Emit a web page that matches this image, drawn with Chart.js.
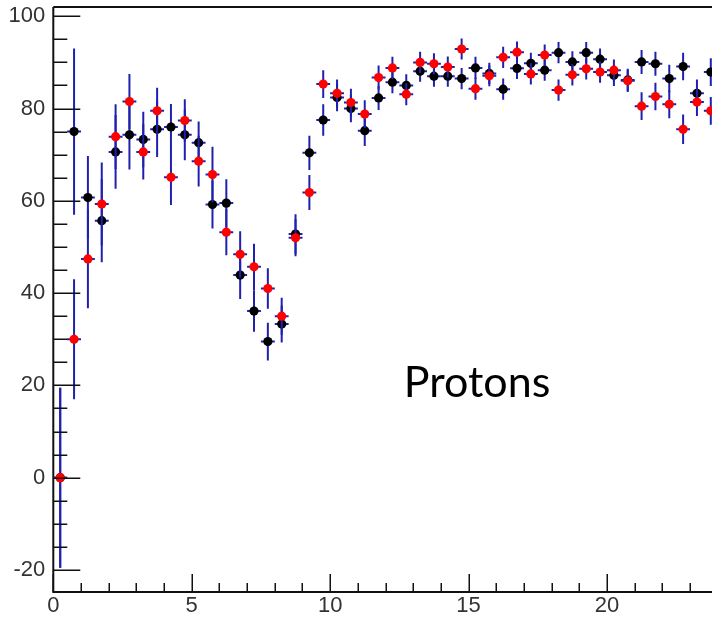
<!DOCTYPE html>
<html>
<head>
<meta charset="utf-8">
<script src="https://cdn.jsdelivr.net/npm/chart.js@4/dist/chart.umd.min.js"></script>
<style>
  html, body { margin: 0; padding: 0; background: #fff; overflow: hidden; width: 712px; height: 620px; }
  #wrap { width: 750px; height: 620px; }
  canvas { display: block; }
</style>
</head>
<body>
<div id="wrap"><canvas id="c" width="750" height="620"></canvas></div>
<script>
// ---- data ----
const binCenters = [0.25, 0.75, 1.25, 1.75, 2.25, 2.75, 3.25, 3.75, 4.25, 4.75, 5.25, 5.75,
  6.25, 6.75, 7.25, 7.75, 8.25, 8.75, 9.25, 9.75, 10.25, 10.75, 11.25, 11.75,
  12.25, 12.75, 13.25, 13.75, 14.25, 14.75, 15.25, 15.75, 16.25, 16.75, 17.25, 17.75,
  18.25, 18.75, 19.25, 19.75, 20.25, 20.75, 21.25, 21.75, 22.25, 22.75, 23.25, 23.75];
const binHalfWidth = 0.25;

const blackValues = [0, 75.0, 60.7, 55.7, 70.6, 74.3, 73.3, 75.5, 76.0, 74.3, 72.6, 59.2,
  59.5, 43.9, 36.1, 29.5, 33.3, 52.8, 70.4, 77.5, 82.4, 80.0, 75.2, 82.3,
  85.7, 85.0, 88.1, 87.0, 87.0, 86.5, 88.8, 87.6, 84.2, 88.7, 89.8, 88.3,
  92.1, 90.1, 92.1, 90.7, 87.2, 86.2, 90.1, 89.7, 86.5, 89.1, 83.3, 87.9];
const blackErrors = [19.5, 18, 9, 9, 8, 7.5, 6, 6, 5, 5.5, 4.6, 5.2,
  5.2, 5.2, 4.5, 4.1, 4, 4.3, 3.7, 3.4, 3, 3, 3.3, 2.6,
  2.4, 2.4, 2.3, 2.3, 2.3, 2.3, 2.4, 2.3, 2.3, 2.3, 2.3, 2.3,
  2.3, 2.3, 2.3, 2.3, 2.3, 2.4, 2.6, 2.6, 3, 3, 3, 3];

const redValues = [0, 30.0, 47.4, 59.3, 73.9, 81.5, 70.6, 79.5, 65.1, 77.4, 68.6, 65.7,
  53.2, 48.4, 45.7, 41.0, 35.0, 52.0, 61.8, 85.3, 83.3, 81.3, 78.8, 86.7,
  88.8, 83.1, 90.0, 89.7, 89.0, 92.9, 84.3, 87.1, 91.1, 92.2, 87.5, 91.6,
  84.0, 87.3, 88.6, 87.9, 88.3, 86.0, 80.5, 82.6, 80.9, 75.5, 81.4, 79.5];
const redErrors = [19.5, 13, 10.7, 9, 7, 6, 6, 5, 6, 4.6, 5.5, 6,
  5, 5, 5, 4.4, 4, 4, 3.8, 3, 3, 3, 3, 2.6,
  2.4, 2.4, 2.3, 2.3, 2.3, 2.3, 2.4, 2.3, 2.3, 2.3, 2.3, 2.3,
  2.3, 2.3, 2.3, 2.3, 2.3, 2.4, 3, 3, 3, 3.2, 3, 3];

const xTickLabels = [0, 5, 10, 15, 20];
const yTickLabels = [-20, 0, 20, 40, 60, 80, 100];
const annotationText = 'Protons';

// ---- build datasets ----
function makePoints(vals, errs) {
  return binCenters.map((x, i) => ({ x: x, y: vals[i], err: errs[i] }));
}

const ERR_COLOR = 'rgb(32,32,175)';

const errorBarPlugin = {
  id: 'errorBars',
  beforeDatasetDraw(chart, args) {
    const ds = chart.data.datasets[args.index];
    const xs = chart.scales.x, ys = chart.scales.y;
    const ctx = chart.ctx;
    ctx.save();
    ctx.beginPath();
    ctx.rect(chart.chartArea.left, chart.chartArea.top,
      chart.chartArea.right - chart.chartArea.left, chart.chartArea.bottom - chart.chartArea.top);
    ctx.clip();
    ctx.strokeStyle = ERR_COLOR;
    ctx.lineWidth = 2;
    ds.data.forEach(p => {
      const px = xs.getPixelForValue(p.x);
      const py = ys.getPixelForValue(p.y);
      const yTop = ys.getPixelForValue(p.y + p.err);
      const yBot = ys.getPixelForValue(p.y - p.err);
      const xL = xs.getPixelForValue(p.x - binHalfWidth);
      const xR = xs.getPixelForValue(p.x + binHalfWidth);
      ctx.beginPath();
      ctx.moveTo(px, yTop); ctx.lineTo(px, yBot);
      ctx.moveTo(xL, py); ctx.lineTo(xR, py);
      ctx.stroke();
    });
    ctx.restore();
  }
};

const framePlugin = {
  id: 'frame',
  afterDraw(chart) {
    const ctx = chart.ctx;
    const a = chart.chartArea;
    const xs = chart.scales.x, ys = chart.scales.y;
    ctx.save();
    ctx.strokeStyle = '#111';
    ctx.lineWidth = 2;
    ctx.beginPath();
    ctx.moveTo(a.left, a.top); ctx.lineTo(a.right + 2, a.top);
    ctx.moveTo(a.left, a.top); ctx.lineTo(a.left, a.bottom);
    ctx.moveTo(a.left - 1, a.bottom); ctx.lineTo(a.right + 2, a.bottom);
    ctx.stroke();
    // x ticks (inward)
    ctx.lineWidth = 1.5;
    ctx.beginPath();
    for (let v = Math.ceil(xs.min); v <= xs.max; v += 1) {
      const px = Math.round(xs.getPixelForValue(v)) + 0.25;
      const len = (v % 5 === 0) ? 18 : 9;
      ctx.moveTo(px, a.bottom); ctx.lineTo(px, a.bottom - len);
    }
    // y ticks (inward)
    for (let v = Math.ceil(ys.min / 5) * 5; v <= ys.max; v += 5) {
      const py = Math.round(ys.getPixelForValue(v)) + 0.25;
      const len = (v % 20 === 0) ? 27 : 14;
      ctx.moveTo(a.left, py); ctx.lineTo(a.left + len, py);
    }
    ctx.stroke();
    // annotation
    ctx.fillStyle = '#000';
    ctx.font = '43px Lato';
    ctx.textBaseline = 'alphabetic';
    ctx.textAlign = 'left';
    ctx.fillText(annotationText, xs.getPixelForValue(12.66), ys.getPixelForValue(17.55));
    ctx.restore();
  }
};

const tickFont = { family: "'Liberation Sans', Arial, sans-serif", size: 22 };

function fixPad(s) { s.paddingTop = 0; s.paddingBottom = 0; s.paddingLeft = 0; s.paddingRight = 0; }

new Chart(document.getElementById('c'), {
  type: 'scatter',
  data: {
    datasets: [
      { label: 'red', data: makePoints(redValues, redErrors), backgroundColor: '#ff0000',
        borderColor: '#ff0000', pointRadius: 4.6, pointBorderWidth: 0, pointHoverRadius: 4.6 },
      { label: 'black', data: makePoints(blackValues, blackErrors), backgroundColor: '#000000',
        borderColor: '#000000', pointRadius: 4.6, pointBorderWidth: 0, pointHoverRadius: 4.6 }
    ]
  },
  options: {
    responsive: false,
    animation: false,
    events: [],
    layout: { padding: { top: 7, right: 0, left: 0, bottom: 0 } },
    plugins: { legend: { display: false }, tooltip: { enabled: false } },
    scales: {
      x: {
        type: 'linear', min: 0, max: 25,
        grid: { display: false, drawTicks: false },
        border: { display: false },
        afterFit(s) { s.height = 28; fixPad(s); },
        afterBuildTicks(s) { s.ticks = xTickLabels.map(v => ({ value: v })); },
        ticks: { font: tickFont, color: '#333', padding: 1, maxRotation: 0, autoSkip: false }
      },
      y: {
        type: 'linear', min: -24.77, max: 102.0,
        grid: { display: false, drawTicks: false },
        border: { display: false },
        afterFit(s) { s.width = 53.3; fixPad(s); },
        afterBuildTicks(s) { s.ticks = yTickLabels.map(v => ({ value: v })); },
        ticks: { font: tickFont, color: '#333', padding: 8 }
      }
    }
  },
  plugins: [errorBarPlugin, framePlugin]
});
</script>
</body>
</html>
